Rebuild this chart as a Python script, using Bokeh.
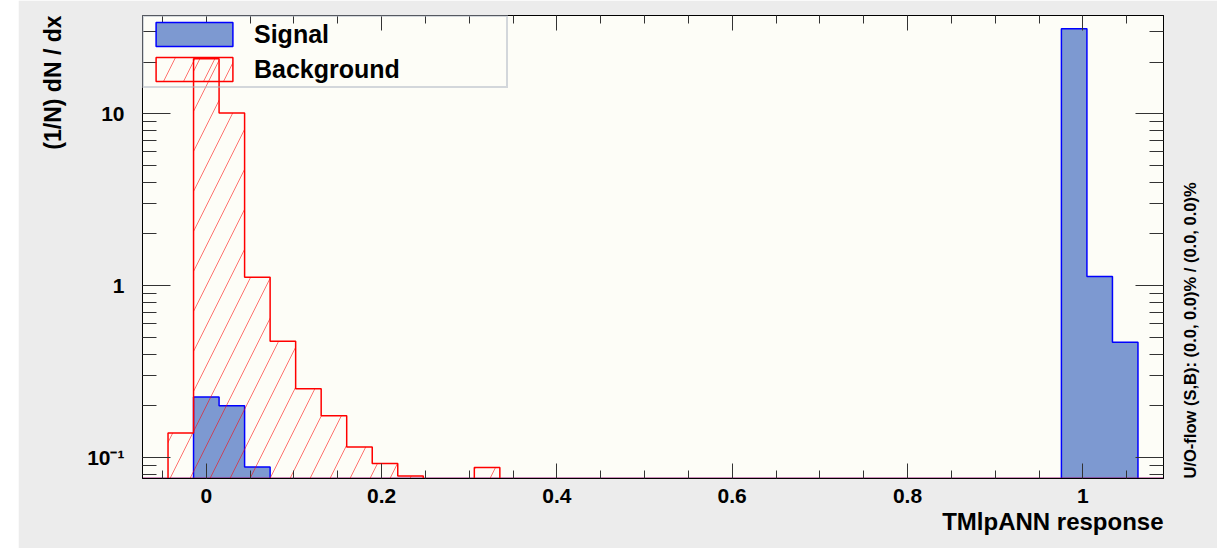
import numpy as np
from bokeh.plotting import figure
from bokeh.core.properties import value
from bokeh.models import (Range1d, FixedTicker, LinearAxis, LogAxis, Legend, Title,
                          LegendItem, CustomJSTickFormatter, Spacer, CanvasTexture)
from bokeh.layouts import row
from bokeh.embed import file_html
from bokeh.resources import INLINE

# ---- data ----
x_min, x_max, n_bins = -0.0727, 1.092, 40
y_min, y_max = 0.0755, 37.3

signal_bins = [2, 3, 4, 36, 37, 38]
signal_vals = [0.225, 0.200, 0.088, 31.2, 1.13, 0.468]
background_bins = [1, 2, 3, 4, 5, 6, 7, 8, 9, 10, 13]
background_vals = [0.139, 20.9, 10.1, 1.12, 0.475, 0.251, 0.175, 0.115, 0.0922, 0.0782, 0.0875]

x_ticks = [0, 0.2, 0.4, 0.6, 0.8, 1.0]
x_tick_labels = ["0", "0.2", "0.4", "0.6", "0.8", "1"]
x_minor = [-0.05, 0.05, 0.1, 0.15, 0.25, 0.3, 0.35, 0.45, 0.5, 0.55, 0.65, 0.7,
           0.75, 0.85, 0.9, 0.95, 1.05]
y_ticks = [0.1, 1, 10]
y_tick_labels = ["10\u207b\u00b9", "1", "10"]
y_minor = [0.08, 0.09, 0.2, 0.3, 0.4, 0.5, 0.6, 0.7, 0.8, 0.9,
           2, 3, 4, 5, 6, 7, 8, 9, 20, 30]

series_names = ["Signal", "Background"]
x_title = "TMlpANN response"
y_title = "(1/N) dN / dx"
flow_text = "U/O-flow (S,B): (0.0, 0.0)% / (0.0, 0.0)%"

# ---- layout constants (page pixels) ----
PAD_LEFT = 18
F_L, F_R, F_T, F_B = 142, 1163, 15, 478
W, H = 1217, 548

FONT = "Liberation Sans"
SIG_FILL = "#7d99d1"
PLOT_BG = "#fdfdf7"

# ---- derived ----
edges = np.linspace(x_min, x_max, n_bins + 1)
sig = np.zeros(n_bins)
sig[signal_bins] = signal_vals
bkg = np.zeros(n_bins)
bkg[background_bins] = background_vals

def step_xy(vals):
    top = np.maximum(vals, y_min)
    xs = np.repeat(edges, 2)
    ys = np.concatenate([[y_min], np.repeat(top, 2), [y_min]])
    return xs, ys

p = figure(width=W - PAD_LEFT, height=H, y_axis_type="log",
           x_range=Range1d(x_min, x_max), y_range=Range1d(y_min, y_max),
           output_backend="svg", toolbar_location=None,
           min_border_left=F_L - PAD_LEFT, min_border_right=W - F_R,
           min_border_top=F_T, min_border_bottom=H - F_B,
           background_fill_color=PLOT_BG, border_fill_color="#ececec")
p.grid.visible = False
p.outline_line_color = "black"
p.outline_line_width = 1

diag = CanvasTexture(code="""
ctx.strokeStyle = color;
ctx.lineWidth = weight;
ctx.beginPath();
ctx.moveTo(0, scale); ctx.lineTo(scale, 0);
ctx.moveTo(-3, 3); ctx.lineTo(3, -3);
ctx.moveTo(scale - 3, scale + 3); ctx.lineTo(scale + 3, scale - 3);
ctx.stroke();
""")

sx, sy = step_xy(sig)
sig_patch = p.patch(sx, sy, fill_color=SIG_FILL, line_color="blue", line_width=1.5)
bx, by = step_xy(bkg)
try:
    bkg_patch = p.patch(bx, by, fill_color=None, line_color="red", line_width=1.5,
                        hatch_pattern=value("diag45"), hatch_extra={"diag45": diag},
                        hatch_color="red", hatch_alpha=0.6, hatch_scale=26, hatch_weight=1)
except Exception:
    bkg_patch = p.patch(bx, by, fill_color=None, line_color="red", line_width=1.5,
                        hatch_pattern="/", hatch_color="red", hatch_alpha=0.55,
                        hatch_scale=40, hatch_weight=1)

legend = Legend(items=[LegendItem(label=series_names[0], renderers=[sig_patch]),
                       LegendItem(label=series_names[1], renderers=[bkg_patch])],
                location="top_left", margin=0, padding=2, spacing=5,
                glyph_width=96, glyph_height=30, label_standoff=12,
                label_width=250, label_height=30,
                label_text_font=FONT, label_text_font_style="bold",
                label_text_font_size="25px", label_text_color="black",
                background_fill_alpha=0, border_line_color="#aab2c0",
                border_line_width=2)
p.add_layout(legend)

# axes
tick_color = "#333333"
xa = p.xaxis[0]
xa.ticker = FixedTicker(ticks=x_ticks, minor_ticks=x_minor)
xa.major_label_overrides = dict(zip(x_ticks, x_tick_labels))
ya = p.yaxis[0]
ya.ticker = FixedTicker(ticks=y_ticks, minor_ticks=y_minor)
ya.major_label_overrides = dict(zip(y_ticks, y_tick_labels))

top = LinearAxis(ticker=FixedTicker(ticks=x_ticks, minor_ticks=x_minor),
                 formatter=CustomJSTickFormatter(code="return ''"))
right = LogAxis(ticker=FixedTicker(ticks=y_ticks, minor_ticks=y_minor),
                formatter=CustomJSTickFormatter(code="return ''"))
p.add_layout(top, "above")
p.add_layout(right, "right")

for ax in (xa, top):
    ax.major_tick_in = 15
    ax.major_tick_out = 0
    ax.minor_tick_in = 8
    ax.minor_tick_out = 0
for ax in (ya, right):
    ax.major_tick_in = 28
    ax.major_tick_out = 0
    ax.minor_tick_in = 14
    ax.minor_tick_out = 0
for ax in (xa, ya, top, right):
    ax.axis_line_color = "black"
    ax.major_tick_line_color = tick_color
    ax.minor_tick_line_color = tick_color
    ax.major_label_text_font = FONT
    ax.major_label_text_font_style = "bold"
    ax.major_label_text_color = "black"
    ax.axis_label_text_font = FONT
    ax.axis_label_text_font_style = "bold"
    ax.axis_label_text_color = "black"
for ax in (top, right):
    ax.major_label_text_font_size = "1px"
    ax.major_label_standoff = 0
xa.major_label_text_font_size = "21px"
ya.major_label_text_font_size = "21px"
xa.major_label_standoff = 10
ya.major_label_standoff = 18

# axis titles (right-aligned, as in the reference)
p.add_layout(Title(text=x_title, align="right", text_font=FONT, text_font_style="bold",
                   text_font_size="24px", text_color="black", standoff=0), "below")
p.add_layout(Title(text=y_title, align="right", text_font=FONT, text_font_style="bold",
                   text_font_size="23px", text_color="black", standoff=37), "left")

props = set(right.properties())
right.axis_label = flow_text
right.axis_label_text_font_size = "16.5px"
right.axis_label_standoff = 26
if "axis_label_orientation" in props:
    right.axis_label_orientation = np.pi / 2
if "axis_label_align" in props:
    right.axis_label_align = "start"

layout = row(Spacer(width=PAD_LEFT, height=H), p)
open("out.html", "w").write(file_html(layout, INLINE))
